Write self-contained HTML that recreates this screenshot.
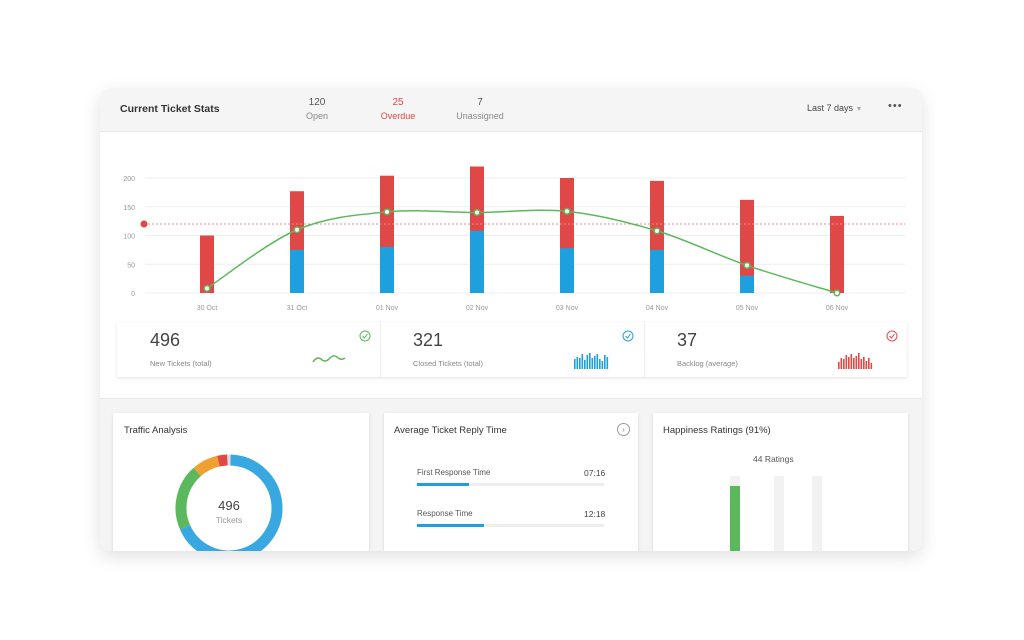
<!DOCTYPE html>
<html><head><meta charset="utf-8"><style>
*{box-sizing:border-box;margin:0;padding:0}
body{width:1024px;height:640px;background:#fff;font-family:"Liberation Sans",sans-serif;position:relative;overflow:hidden;color:#333}
.card{position:absolute;left:100px;top:88px;width:822px;height:463px;border-radius:10px;overflow:hidden;background:#fff;box-shadow:0 6px 18px rgba(0,0,0,.12)}
.hdr{position:absolute;left:0;top:0;width:100%;height:44px;background:#f5f5f5;border-bottom:1px solid #e8e8e8}
.abs{position:absolute}
.lower{position:absolute;left:0;top:310px;width:100%;height:160px;background:#f4f4f4;border-top:1px solid #eaeaea}
.box{position:absolute;background:#fff;box-shadow:0 1px 3px rgba(0,0,0,.12)}
.t{font-size:9px;color:#888}
</style></head><body>
<div class="card">
 <div class="hdr">
  <div class="abs" style="left:20px;top:15px;font-size:10.5px;font-weight:bold;color:#333">Current Ticket Stats</div>
  <div class="abs" style="left:200px;top:9px;width:34px;text-align:center"><div style="font-size:10px;color:#555">120</div><div class="t" style="margin-top:3px">Open</div></div>
  <div class="abs" style="left:278px;top:9px;width:40px;text-align:center"><div style="font-size:10px;color:#e04848">25</div><div class="t" style="margin-top:3px;color:#e04848">Overdue</div></div>
  <div class="abs" style="left:355px;top:9px;width:50px;text-align:center"><div style="font-size:10px;color:#555">7</div><div class="t" style="margin-top:3px">Unassigned</div></div>
  <div class="abs" style="left:707px;top:15px;font-size:9px;color:#444">Last 7 days <span style="color:#aaa;font-size:7px">▼</span></div>
  <div class="abs" style="left:788px;top:12px;font-size:11px;color:#555;letter-spacing:1px">•••</div>
 </div>
 <svg class="abs" style="left:0;top:0" width="822" height="230" id="chart"></svg>
 <div class="box" style="left:17px;top:234px;width:790px;height:55px">
  <div class="abs" style="left:263px;top:0;width:1px;height:55px;background:#eee"></div>
  <div class="abs" style="left:527px;top:0;width:1px;height:55px;background:#eee"></div>
  <div class="abs" style="left:33px;top:8px;font-size:18px;color:#444">496</div>
  <div class="abs" style="left:33px;top:37px;font-size:7.5px;color:#888">New Tickets (total)</div>
  <div class="abs" style="left:296px;top:8px;font-size:18px;color:#444">321</div>
  <div class="abs" style="left:296px;top:37px;font-size:7.5px;color:#888">Closed Tickets (total)</div>
  <div class="abs" style="left:560px;top:8px;font-size:18px;color:#444">37</div>
  <div class="abs" style="left:560px;top:37px;font-size:7.5px;color:#888">Backlog (average)</div>
  <svg class="abs" style="left:0;top:0" width="790" height="55" id="spark">
   <circle cx="248" cy="14" r="5" fill="none" stroke="#5cb85c" stroke-width="1"/><path d="M245.5 14l2 2 3-4" fill="none" stroke="#5cb85c" stroke-width="1"/>
   <circle cx="511" cy="14" r="5" fill="none" stroke="#2a9fd8" stroke-width="1"/><path d="M508.5 14l2 2 3-4" fill="none" stroke="#2a9fd8" stroke-width="1"/>
   <circle cx="775" cy="14" r="5" fill="none" stroke="#e04848" stroke-width="1"/><path d="M772.5 14l2 2 3-4" fill="none" stroke="#e04848" stroke-width="1"/>
   <path d="M196 40 q4 -6 8 -3 q4 4 8 0 q4 -5 8 -2 q4 4 8 1" fill="none" stroke="#5cb85c" stroke-width="1.5"/>
  </svg>
 </div>
 <div class="lower"></div>
 <div class="box" style="left:13px;top:325px;width:256px;height:150px">
  <div class="abs" style="left:11px;top:12px;font-size:9.5px;color:#333">Traffic Analysis</div>
  <svg class="abs" style="left:0;top:0" width="256" height="150" id="donut"></svg>
  <div class="abs" style="left:86px;top:85px;width:60px;text-align:center;font-size:13px;color:#444">496</div>
  <div class="abs" style="left:86px;top:102px;width:60px;text-align:center;font-size:8.5px;color:#999">Tickets</div>
 </div>
 <div class="box" style="left:284px;top:325px;width:254px;height:150px">
  <div class="abs" style="left:10px;top:12px;font-size:9.5px;color:#333">Average Ticket Reply Time</div>
  <div class="abs" style="left:233px;top:10px;width:13px;height:13px;border:1px solid #999;border-radius:50%;font-size:8px;text-align:center;line-height:11px;color:#888">›</div>
  <div class="abs" style="left:33px;top:55px;font-size:8px;color:#555">First Response Time</div>
  <div class="abs" style="left:200px;top:55px;font-size:8.5px;color:#444">07:16</div>
  <div class="abs" style="left:33px;top:70px;width:187px;height:3px;background:#eee"><div style="width:52px;height:3px;background:#1ea0df"></div></div>
  <div class="abs" style="left:33px;top:96px;font-size:8px;color:#555">Response Time</div>
  <div class="abs" style="left:200px;top:96px;font-size:8.5px;color:#444">12:18</div>
  <div class="abs" style="left:33px;top:111px;width:187px;height:3px;background:#eee"><div style="width:67px;height:3px;background:#1ea0df"></div></div>
 </div>
 <div class="box" style="left:553px;top:325px;width:255px;height:150px">
  <div class="abs" style="left:10px;top:12px;font-size:9.5px;color:#333">Happiness Ratings (91%)</div>
  <div class="abs" style="left:100px;top:41px;font-size:8.5px;color:#555">44 Ratings</div>
  <div class="abs" style="left:77px;top:63px;width:10px;height:90px;background:#f2f2f2"></div>
  <div class="abs" style="left:77px;top:73px;width:10px;height:80px;background:#5cb85c"></div>
  <div class="abs" style="left:121px;top:63px;width:10px;height:90px;background:#f2f2f2"></div>
  <div class="abs" style="left:159px;top:63px;width:10px;height:90px;background:#f2f2f2"></div>
 </div>
</div>
<script>
const categories=["30 Oct","31 Oct","01 Nov","02 Nov","03 Nov","04 Nov","05 Nov","06 Nov"];
const totalValues=[100,177,204,220,200,195,162,134];
const closedValues=[0,75,80,108,78,75,30,0];
const lineValues=[8,110,141,140,142,108,48,0];
const yTicks=[0,50,100,150,200];
const targetValue=120;
const closedSpark=[10,12,11,15,9,14,16,11,13,15,10,8,14,12];
const backlogSpark=[7,11,10,14,12,15,11,13,16,10,12,8,11,6];
const trafficShares=[68,20,8,3,1];
const trafficColors=["#3aa8e0","#5cb85c","#f0a030","#e04848","#ddd"];
const NS="http://www.w3.org/2000/svg";
function mk(p,tag,a){const e=document.createElementNS(NS,tag);for(const k in a)e.setAttribute(k,a[k]);p.appendChild(e);return e;}
const svg=document.getElementById('chart');
const y=v=>205-v*0.575; const x=i=>107+i*90;
yTicks.forEach(t=>{
 const l=mk(svg,'line',{x1:45,x2:805,y1:y(t),y2:y(t),stroke:'#eee','stroke-width':1});
 
 
 const tx=mk(svg,'text',{x:35,y:y(t)+3,'text-anchor':'end','font-size':7,fill:'#999'});tx.textContent=t;
 
 
});
categories.forEach((c,i)=>{
 const r=mk(svg,'rect',{x:x(i)-7,y:y(totalValues[i]),width:14,height:y(0)-y(totalValues[i]),fill:'#e04848'});
 
 
 if(closedValues[i]>0){const b=mk(svg,'rect',{x:x(i)-7,y:y(closedValues[i]),width:14,height:y(0)-y(closedValues[i]),fill:'#1ea0df'});
 
 }
 const tx=mk(svg,'text',{x:x(i),y:y(0)+17,'text-anchor':'middle','font-size':7,fill:'#999'});tx.textContent=c;
 
 
});
const tl=mk(svg,'line',{x1:44,x2:805,y1:y(targetValue),y2:y(targetValue),stroke:'#e88','stroke-width':1,'stroke-dasharray':'2,2'});


const td=mk(svg,'circle',{cx:44,cy:y(targetValue),r:3.5,fill:'#e04848'});


const P=lineValues.map((v,i)=>[x(i),y(v)]);
let d='M'+P[0][0]+' '+P[0][1];
for(let i=0;i<P.length-1;i++){const p0=P[Math.max(0,i-1)],p1=P[i],p2=P[i+1],p3=P[Math.min(P.length-1,i+2)];const k=1/6;
 d+=` C${p1[0]+(p2[0]-p0[0])*k} ${p1[1]+(p2[1]-p0[1])*k} ${p2[0]-(p3[0]-p1[0])*k} ${p2[1]-(p3[1]-p1[1])*k} ${p2[0]} ${p2[1]}`;}
const ln=mk(svg,'path',{d:d,fill:'none',stroke:'#5cb85c','stroke-width':1.5});


lineValues.forEach((v,i)=>{const p=mk(svg,'circle',{cx:x(i),cy:y(v),r:2.8,fill:'#fff',stroke:'#5cb85c','stroke-width':1.5});
 
 });
const sp=document.getElementById('spark');
function spark(vals,x0,col){vals.forEach((v,i)=>{const r=mk(sp,'rect',{x:x0+i*2.5,y:47-v,width:1.6,height:v,fill:col});
 
 });}
spark(closedSpark,457,'#1ea0df');spark(backlogSpark,721,'#e04848');
const dn=document.getElementById('donut');
const cx=116,cy=95,R=48;let a0=-Math.PI/2+0.03;const tot=trafficShares.reduce((s,v)=>s+v,0);
trafficShares.forEach((s,i)=>{const a1=a0+s/tot*2*Math.PI;const lg=(a1-a0)>Math.PI?1:0;
 const p=mk(dn,'path',{d:`M${cx+R*Math.cos(a0)} ${cy+R*Math.sin(a0)} A${R} ${R} 0 ${lg} 1 ${cx+R*Math.cos(a1)} ${cy+R*Math.sin(a1)}`,fill:'none',stroke:trafficColors[i],'stroke-width':11});
 
 
 a0=a1;});
</script>
</body></html>
